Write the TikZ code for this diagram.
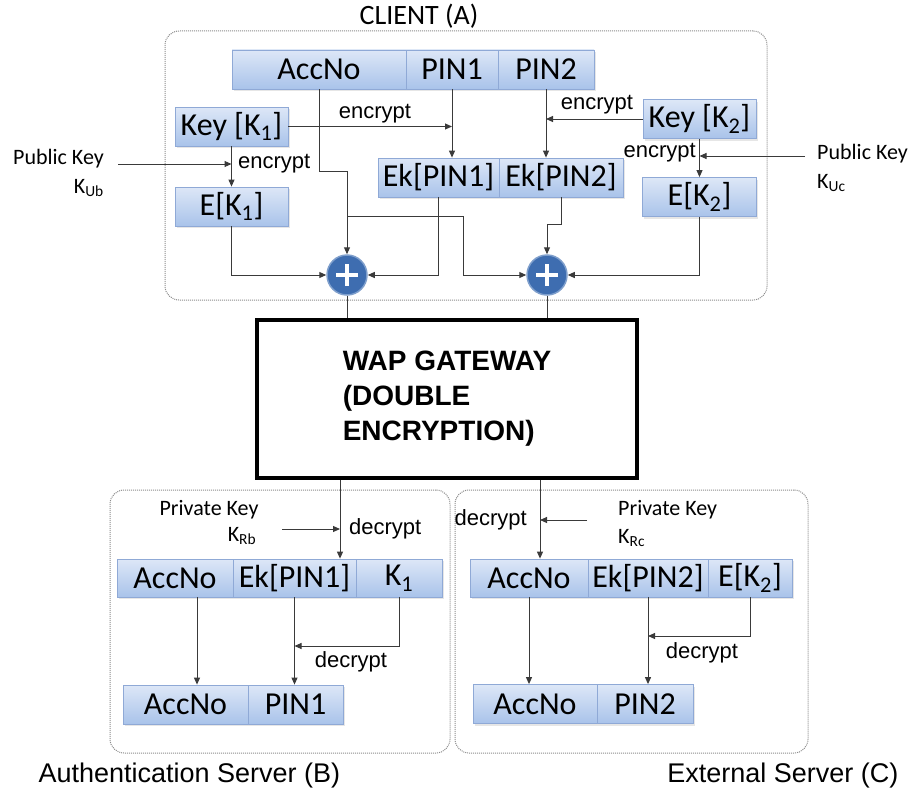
\documentclass[tikz,border=0pt]{standalone}
\usepackage{fontspec}
\setmainfont{Carlito}
\newfontfamily\arialfont{Liberation Sans}
\usepackage{tikz}
\usetikzlibrary{arrows.meta,positioning,shadows}

\definecolor{celltop}{HTML}{DDE7F7}
\definecolor{cellbot}{HTML}{A9C3EA}
\definecolor{celledge}{HTML}{8FA9D6}
\definecolor{wirecol}{HTML}{3A3A3A}
\definecolor{xorfill}{HTML}{3E6DB0}
\definecolor{xoredge}{HTML}{7F9FCC}

\tikzset{
  cell/.style={draw=celledge,line width=0.8pt,top color=celltop,bottom color=cellbot,
    inner sep=0pt,minimum height=39pt,font=\fontsize{32}{34}\selectfont,
    drop shadow={opacity=0.2,shadow xshift=1.5pt,shadow yshift=-2pt}},
  wire/.style={draw=wirecol,line width=1pt},
  arr/.style={wire,-{Triangle[length=7pt,width=6pt]}},
  zone/.style={draw=gray!90,densely dotted,line width=1pt,rounded corners=14pt},
  op/.style={font=\arialfont\fontsize{22}{24}\selectfont,inner sep=1pt},
  keylab/.style={font=\fontsize{22}{24}\selectfont,inner sep=0pt},
  xorb/.style={circle,minimum size=40pt,inner sep=0pt,fill=xorfill,draw=xoredge,line width=1.5pt,
    path picture={\draw[white,line width=4pt]
      ([xshift=-11pt]path picture bounding box.center) -- ([xshift=11pt]path picture bounding box.center)
      ([yshift=-11pt]path picture bounding box.center) -- ([yshift=11pt]path picture bounding box.center);}},
  gwbox/.style={draw=black,line width=4pt,minimum width=380pt,minimum height=158pt,align=left,
    font=\arialfont\bfseries\fontsize{28}{35}\selectfont}
}

\begin{document}
\begin{tikzpicture}[x=1pt,y=-1pt]
\useasboundingbox (0,0) rectangle (909,792);

% client (A)
\node[zone,minimum width=602,minimum height=269] (client) at (466,165.5) {};
\node[font=\fontsize{28}{30}\selectfont] (clientlab) at (419,16) {CLIENT (A)};
\foreach \nm/\cx/\w/\lab in {aAcc/319/174/AccNo,aPin1/452/92/PIN1,aPin2/546/96/PIN2}{
  \node[cell,minimum width=\w] (\nm) at (\cx,69.5) {\lab};
}
\foreach \nm/\cx/\w/\lab in {aEkPin1/438.5/121/{Ek[PIN1]},aEkPin2/561/124/{Ek[PIN2]}}{
  \node[cell,minimum width=\w] (\nm) at (\cx,177.5) {\lab};
}
\node[cell,minimum width=113] (aKey1) at (231.5,126.5) {Key [K\textsubscript{1}]};
\node[cell,minimum width=113] (aEK1) at (231.5,206.5) {E[K\textsubscript{1}]};
\node[cell,minimum width=113] (aKey2) at (699.5,119) {Key [K\textsubscript{2}]};
\node[cell,minimum width=114] (aEK2) at (699.5,197) {E[K\textsubscript{2}]};
\node[xorb] (xor1) at (347,275) {};
\node[xorb] (xor2) at (547,275) {};

% public keys
\node[keylab,anchor=east] (pubB) at (104,159) {Public Key};
\node[keylab,anchor=east] (pubBsub) at (104,188) {K\textsubscript{Ub}};
\node[keylab,anchor=west] (pubC) at (817,154) {Public Key};
\node[keylab,anchor=west] (pubCsub) at (817,183) {K\textsubscript{Uc}};
\coordinate (pubBtail) at (118,164);
\coordinate (pubCtail) at (805,156);
\draw[arr] (pubBtail) -- (pubBtail -| aKey1.south);
\draw[arr] (pubCtail) -- (pubCtail -| aKey2.south);
\node[op,anchor=west] (encB) at (237,164) {encrypt};
\node[op,anchor=east] (encC) at (697,153) {encrypt};
\node[op] (enc1) at (375,114) {encrypt};
\node[op] (enc2) at (597,105) {encrypt};

% client wiring
\draw[arr] (aKey1.south) -- (aEK1.north);
\draw[arr] (aKey2.south) -- (aKey2.south |- aEK2.north);
\draw[arr] (aKey1.east) -- (aKey1.east -| aPin1.south);
\draw[arr] (aKey2.west) -- (aKey2.west -| aPin2.south);
\draw[arr] (aPin1.south) -- (aPin1.south |- aEkPin1.north);
\draw[arr] (aPin2.south) -- (aPin2.south |- aEkPin2.north);
\coordinate (accBend) at (347,171);
\coordinate (accFork) at (347,216);
\coordinate (accDrop) at (463,275);
\draw[arr] (aAcc.south) |- (accBend) -- (xor1.north);
\draw[arr] (accFork) -| (accDrop) -- (xor2.west);
\draw[arr] (aEK1.south) |- (xor1.west);
\draw[arr] (aEkPin1.south) |- (xor1.east);
\draw[arr] (aEkPin2.south) -- ++(0,27) -| (xor2.north);
\draw[arr] (aEK2.south) |- (xor2.east);

% gateway
\node[gwbox] (gw) at (447,399) {WAP GATEWAY\\(DOUBLE\\ENCRYPTION)};
\draw[wire] (xor1.south) -- (xor1.south |- gw.north);
\draw[wire] (xor2.south) -- (xor2.south |- gw.north);
\coordinate (downB) at (340,480);
\coordinate (downC) at (540,480);

% authentication server (B)
\node[zone,minimum width=340,minimum height=263] (srvB) at (280,621.5) {};
\node[font=\arialfont\fontsize{27}{29}\selectfont,anchor=west] (srvBlab) at (35,776) {Authentication Server (B)};
\foreach \nm/\cx/\w/\lab in {bAcc/175/116/AccNo,bEkPin/294.5/123/{Ek[PIN1]},bK1/399/86/{K\textsubscript{1}}}{
  \node[cell,minimum width=\w,minimum height=38] (\nm) at (\cx,578) {\lab};
}
\foreach \nm/\cx/\w/\lab in {bAcc2/185.5/125/AccNo,bPin/295.5/95/PIN1}{
  \node[cell,minimum width=\w] (\nm) at (\cx,704.5) {\lab};
}
\node[keylab] (privB) at (209,510) {Private Key};
\node[keylab] (privBsub) at (242,536) {K\textsubscript{Rb}};
\coordinate (privBtail) at (282,529);
\draw[arr] (privBtail) -- (privBtail -| downB);
\node[op,anchor=west] (decB) at (348,529) {decrypt};
\draw[arr] (downB) -- (downB |- bEkPin.north);
\coordinate (bAccDrop) at (197,597);
\draw[arr] (bAccDrop) -- (bAccDrop |- bAcc2.north);
\draw[arr] (bEkPin.south) -- (bEkPin.south |- bPin.north);
\draw[arr] (bK1.south) |- (bEkPin.south |- 0,646);
\node[op] (decB2) at (351,662) {decrypt};

% external server (C)
\node[zone,minimum width=353,minimum height=263] (srvC) at (631.5,621.5) {};
\node[font=\arialfont\fontsize{27}{29}\selectfont,anchor=east] (srvClab) at (902,776) {External Server (C)};
\foreach \nm/\cx/\w/\lab in {cAcc/529/118/AccNo,cEkPin/648/120/{Ek[PIN2]},cEK/750/84/{E[K\textsubscript{2}]}}{
  \node[cell,minimum width=\w,minimum height=38] (\nm) at (\cx,578) {\lab};
}
\foreach \nm/\cx/\w/\lab in {cAcc2/535/124/AccNo,cPin/645/96/PIN2}{
  \node[cell,minimum width=\w] (\nm) at (\cx,704) {\lab};
}
\node[keylab,anchor=west] (privC) at (618,510) {Private Key};
\node[keylab,anchor=west] (privCsub) at (618,538) {K\textsubscript{Rc}};
\coordinate (privCtail) at (587,520);
\draw[arr] (privCtail) -- (privCtail -| downC);
\node[op,anchor=east] (decC) at (528,520) {decrypt};
\draw[arr] (downC) -- (downC |- cAcc.north);
\draw[arr] (cAcc.south) -- (cAcc.south |- cAcc2.north);
\draw[arr] (cEkPin.south) -- (cEkPin.south |- cPin.north);
\draw[arr] (cEK.south) |- (cEkPin.south |- 0,636);
\node[op] (decC2) at (702,653) {decrypt};
\end{tikzpicture}
\end{document}
